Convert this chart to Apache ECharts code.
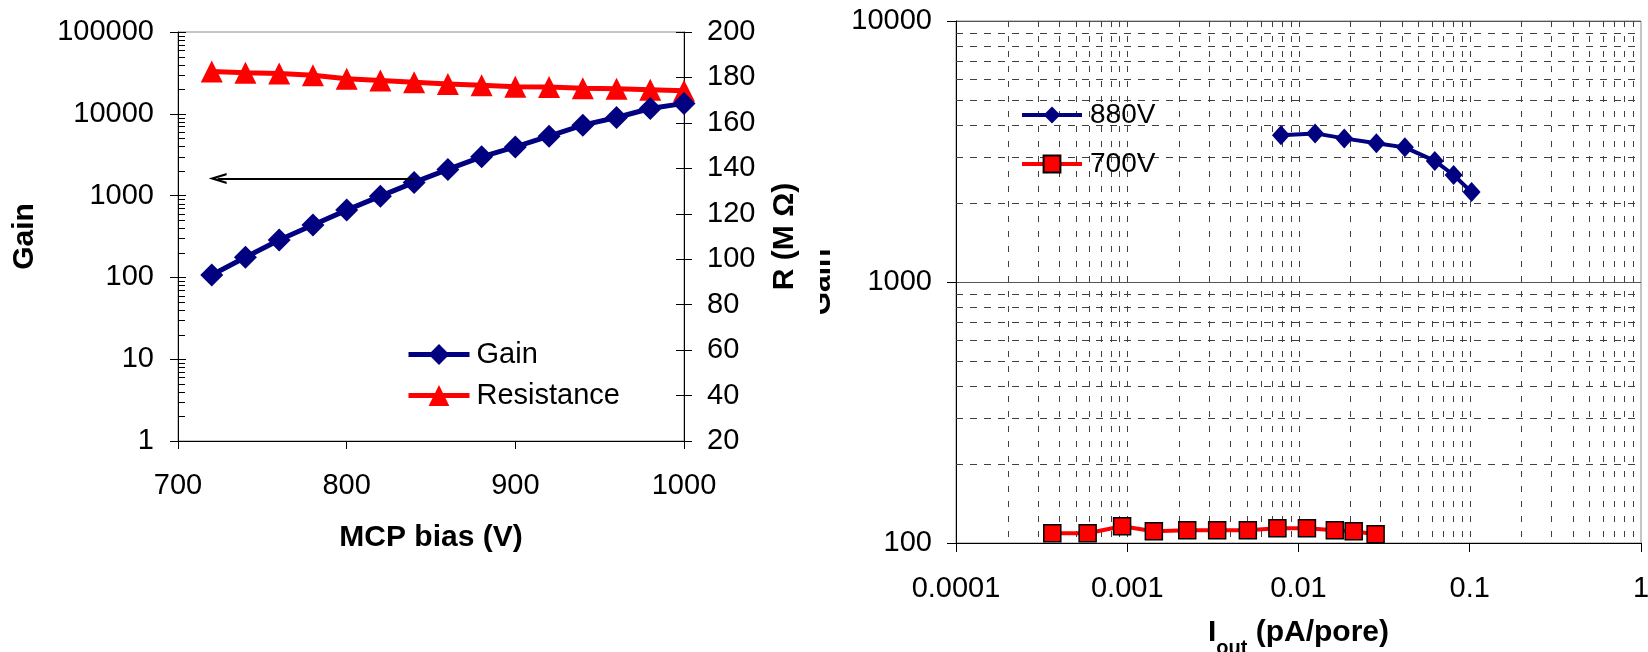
<!DOCTYPE html>
<html>
<head>
<meta charset="utf-8">
<script src="https://cdn.jsdelivr.net/npm/echarts@6/dist/echarts.min.js"></script>
<style>
  html, body { margin: 0; padding: 0; background: #fff; }
  #left  { position: absolute; left: 0;     top: 0; width: 820px; height: 652px; }
  #right { position: absolute; left: 820px; top: 0; width: 828px; height: 652px; }
</style>
</head>
<body>
<div id="left"></div>
<div id="right"></div>
<script>
// ---- MCP gain and strip resistance versus bias voltage ----
const biasVolts      = [720, 740, 760, 780, 800, 820, 840, 860, 880, 900, 920, 940, 960, 980, 1000];
const gainValues     = [107, 176, 286, 437, 665, 985, 1450, 2090, 2980, 3940, 5330, 7260, 9010, 11600, 13400];
const resistanceMOhm = [182.6, 182.1, 181.7, 181.0, 179.4, 178.7, 177.9, 177.1, 176.6, 175.9, 175.8, 175.2, 175.0, 174.6, 174.1];
const gainTickLabels = ['1', '10', '100', '1000', '10000', '100000'];
const resistanceTickLabels = ['20', '40', '60', '80', '100', '120', '140', '160', '180', '200'];
const biasTickLabels = ['700', '800', '900', '1000'];
// arrow pointing from the gain curve to its axis (end point = centre of the head)
const arrowFrom = [840, 1618];
const arrowTo   = [723.5, 1618];

// ---- Gain versus output current per pore ----
const iout880 = [0.0079, 0.0125, 0.0185, 0.0285, 0.0418, 0.0625, 0.0805, 0.1025];
const gain880 = [3650, 3710, 3550, 3400, 3280, 2910, 2570, 2210];
const iout700 = [0.000365, 0.000587, 0.000933, 0.00143, 0.00224, 0.00335, 0.00506, 0.00753, 0.0112, 0.0163, 0.0210, 0.0282];
const gain700 = [109, 109, 116, 111, 112, 112, 112, 114, 114, 112, 111, 108];
const ioutTickLabels = ['0.0001', '0.001', '0.01', '0.1', '1'];
const gainRightTickLabels = ['100', '1000', '10000'];

const FONT = '"Liberation Sans", Arial, sans-serif';
const NAVY = '#000080';
const RED = '#ff0000';

// values 2..9 (and optionally 10) times each power of ten in [fromExp, toExp)
function logSubdivisions(fromExp, toExp, withDecade) {
  const out = [];
  for (let e = fromExp; e < toExp; e++) {
    const top = withDecade ? 10 : 9;
    for (let m = 2; m <= top; m++) out.push(m * Math.pow(10, e));
  }
  return out;
}
function labelFor(labels, v) {
  const hit = labels.find(s => Math.abs(Math.log10(+s) - Math.log10(v)) < 1e-6);
  return hit === undefined ? '' : hit;
}
const crisp = v => Math.round(v) + 0.5;

const axisText = { fontFamily: FONT, fontSize: 29, color: '#000', lineHeight: 29 };
const titleText = { fontFamily: FONT, fontSize: 30, fontWeight: 'bold', color: '#000', lineHeight: 30 };
const blackLine = { lineStyle: { color: '#000', width: 1 } };

// ================= left chart =================
const leftChart = echarts.init(document.getElementById('left'));
const gainMinor = logSubdivisions(0, 5, false);

leftChart.setOption({
  animation: false,
  backgroundColor: '#fff',
  textStyle: { fontFamily: FONT },
  grid: { left: 178, top: 32, width: 506, height: 409, outerBoundsMode: 'none',
          show: true, borderColor: '#8a8a8a', borderWidth: 1 },
  legend: {
    data: ['Gain', 'Resistance'],
    orient: 'vertical',
    left: 406, top: 340, padding: 0,
    itemWidth: 61, itemHeight: 26, itemGap: 12,
    lineStyle: { width: 5 },
    textStyle: { fontFamily: FONT, fontSize: 29, color: '#000', padding: [0, 0, 0, 2] }
  },
  xAxis: {
    type: 'value', min: 700, max: 1000, interval: 100,
    axisLine: blackLine,
    axisTick: { length: 8, lineStyle: { color: '#000' } },
    axisLabel: Object.assign({ margin: 30, formatter: v => biasTickLabels.find(s => +s === v) || '' }, axisText),
    splitLine: { show: false },
    name: 'MCP bias (V)', nameLocation: 'middle', nameGap: 82, nameTextStyle: titleText
  },
  yAxis: [
    {
      type: 'log', logBase: 10, min: 1, max: 100000, position: 'left',
      axisLine: Object.assign({ show: true }, blackLine),
      axisTick: { length: 8, lineStyle: { color: '#000' } },
      axisLabel: Object.assign({ margin: 24, formatter: v => labelFor(gainTickLabels, v) }, axisText),
      splitLine: { show: false },
      name: 'Gain', nameLocation: 'middle', nameGap: 138, nameTextStyle: titleText
    },
    {
      type: 'value', min: 20, max: 200, interval: 20, position: 'right',
      axisLine: Object.assign({ show: true }, blackLine),
      axisTick: { length: 8, lineStyle: { color: '#000' } },
      axisLabel: Object.assign({ margin: 23, formatter: v => resistanceTickLabels.find(s => +s === v) || '' }, axisText),
      splitLine: { show: false },
      name: 'R (M Ω)', nameLocation: 'middle', nameGap: 86, nameTextStyle: titleText
    },
    {
      // inner half of the crossing gain ticks
      type: 'log', logBase: 10, min: 1, max: 100000, position: 'left',
      axisLine: { show: false }, axisLabel: { show: false }, splitLine: { show: false },
      axisTick: { inside: true, length: 8, lineStyle: { color: '#000' } }
    },
    {
      // inner half of the crossing resistance ticks
      type: 'value', min: 20, max: 200, interval: 20, position: 'right',
      axisLine: { show: false }, axisLabel: { show: false }, splitLine: { show: false },
      axisTick: { inside: true, length: 8, lineStyle: { color: '#000' } }
    }
  ],
  series: [
    {
      name: 'gainMinorTicks', type: 'custom', silent: true, z: 1,
      xAxisIndex: 0, yAxisIndex: 0,
      data: gainMinor.map(v => [700, v]),
      renderItem(params, api) {
        const p = api.coord([api.value(0), api.value(1)]);
        const y = crisp(p[1]);
        return { type: 'line', shape: { x1: p[0], y1: y, x2: p[0] + 7, y2: y }, style: { stroke: '#000', lineWidth: 1 } };
      }
    },
    {
      name: 'Resistance', type: 'line', yAxisIndex: 1, z: 3,
      data: biasVolts.map((v, i) => [v, resistanceMOhm[i]]),
      symbol: 'triangle', symbolSize: 22,
      itemStyle: { color: RED },
      lineStyle: { color: RED, width: 5 }
    },
    {
      name: 'Gain', type: 'line', yAxisIndex: 0, z: 4,
      data: biasVolts.map((v, i) => [v, gainValues[i]]),
      symbol: 'diamond', symbolSize: 23,
      itemStyle: { color: NAVY },
      lineStyle: { color: NAVY, width: 5 },
      markLine: {
        silent: true,
        symbol: ['none', 'path://M5,0L10,10L8,10L5,4L2,10L0,10Z'],
        symbolSize: [11, 18],
        label: { show: false },
        lineStyle: { color: '#000', width: 2, type: 'solid' },
        data: [[{ coord: arrowFrom }, { coord: arrowTo }]]
      }
    }
  ]
});

// ================= right chart =================
const rightChart = echarts.init(document.getElementById('right'));
const xGrid = logSubdivisions(-4, 0, true).filter(v => v < 0.999);
const yGrid = logSubdivisions(2, 4, false);

rightChart.setOption({
  animation: false,
  backgroundColor: '#fff',
  textStyle: { fontFamily: FONT },
  grid: { left: 136, top: 21, width: 685, height: 522, outerBoundsMode: 'none',
          show: true, borderColor: '#8a8a8a', borderWidth: 1 },
  legend: {
    data: ['880V', '700V'],
    orient: 'vertical',
    left: 200, top: 101, padding: 0,
    itemWidth: 60, itemHeight: 21, itemGap: 21,
    lineStyle: { width: 4 },
    textStyle: { fontFamily: FONT, fontSize: 28, color: '#000', padding: [0, 0, 0, 3] }
  },
  xAxis: {
    type: 'log', logBase: 10, min: 0.0001, max: 1,
    axisLine: blackLine,
    axisTick: { length: 9, lineStyle: { color: '#000' } },
    axisLabel: Object.assign({ margin: 31, formatter: v => labelFor(ioutTickLabels, v) }, axisText),
    splitLine: { show: false },
    name: '{m|I}{s|out}{m| (pA/pore)}', nameLocation: 'middle', nameGap: 75,
    nameTextStyle: {
      rich: {
        m: { fontFamily: FONT, fontSize: 30, fontWeight: 'bold', color: '#000', lineHeight: 40, verticalAlign: 'top' },
        s: { fontFamily: FONT, fontSize: 20, fontWeight: 'bold', color: '#000', lineHeight: 26, verticalAlign: 'bottom' }
      }
    }
  },
  yAxis: {
    type: 'log', logBase: 10, min: 100, max: 10000,
    axisLine: Object.assign({ show: true }, blackLine),
    axisTick: { length: 9, lineStyle: { color: '#000' } },
    axisLabel: Object.assign({ margin: 24, formatter: v => labelFor(gainRightTickLabels, v) }, axisText),
    splitLine: { show: true, lineStyle: { color: '#555', width: 1, type: 'solid' } },
    name: 'Gain', nameLocation: 'middle', nameGap: 119, nameTextStyle: titleText
  },
  series: [
    {
      name: 'xGridLines', type: 'custom', silent: true, z: 1,
      data: xGrid.map(v => [v, 100]),
      renderItem(params, api) {
        const cs = params.coordSys;
        const x = crisp(api.coord([api.value(0), api.value(1)])[0]);
        return { type: 'line', shape: { x1: x, y1: cs.y, x2: x, y2: cs.y + cs.height },
                 style: { stroke: '#404040', lineWidth: 1, lineDash: [6, 9] } };
      }
    },
    {
      name: 'yGridLines', type: 'custom', silent: true, z: 1,
      data: yGrid.map(v => [0.0001, v]),
      renderItem(params, api) {
        const cs = params.coordSys;
        const y = crisp(api.coord([api.value(0), api.value(1)])[1]);
        return { type: 'line', shape: { x1: cs.x, y1: y, x2: cs.x + cs.width, y2: y },
                 style: { stroke: '#404040', lineWidth: 1, lineDash: [7, 7] } };
      }
    },
    {
      name: '880V', type: 'line', z: 3,
      data: iout880.map((v, i) => [v, gain880[i]]),
      symbol: 'diamond', symbolSize: [18, 20],
      itemStyle: { color: NAVY },
      lineStyle: { color: NAVY, width: 4 }
    },
    {
      name: '700V', type: 'line', z: 3,
      data: iout700.map((v, i) => [v, gain700[i]]),
      symbol: 'rect', symbolSize: 17,
      itemStyle: { color: RED, borderColor: '#000', borderWidth: 1.5 },
      lineStyle: { color: RED, width: 4 }
    }
  ]
});
</script>
</body>
</html>
